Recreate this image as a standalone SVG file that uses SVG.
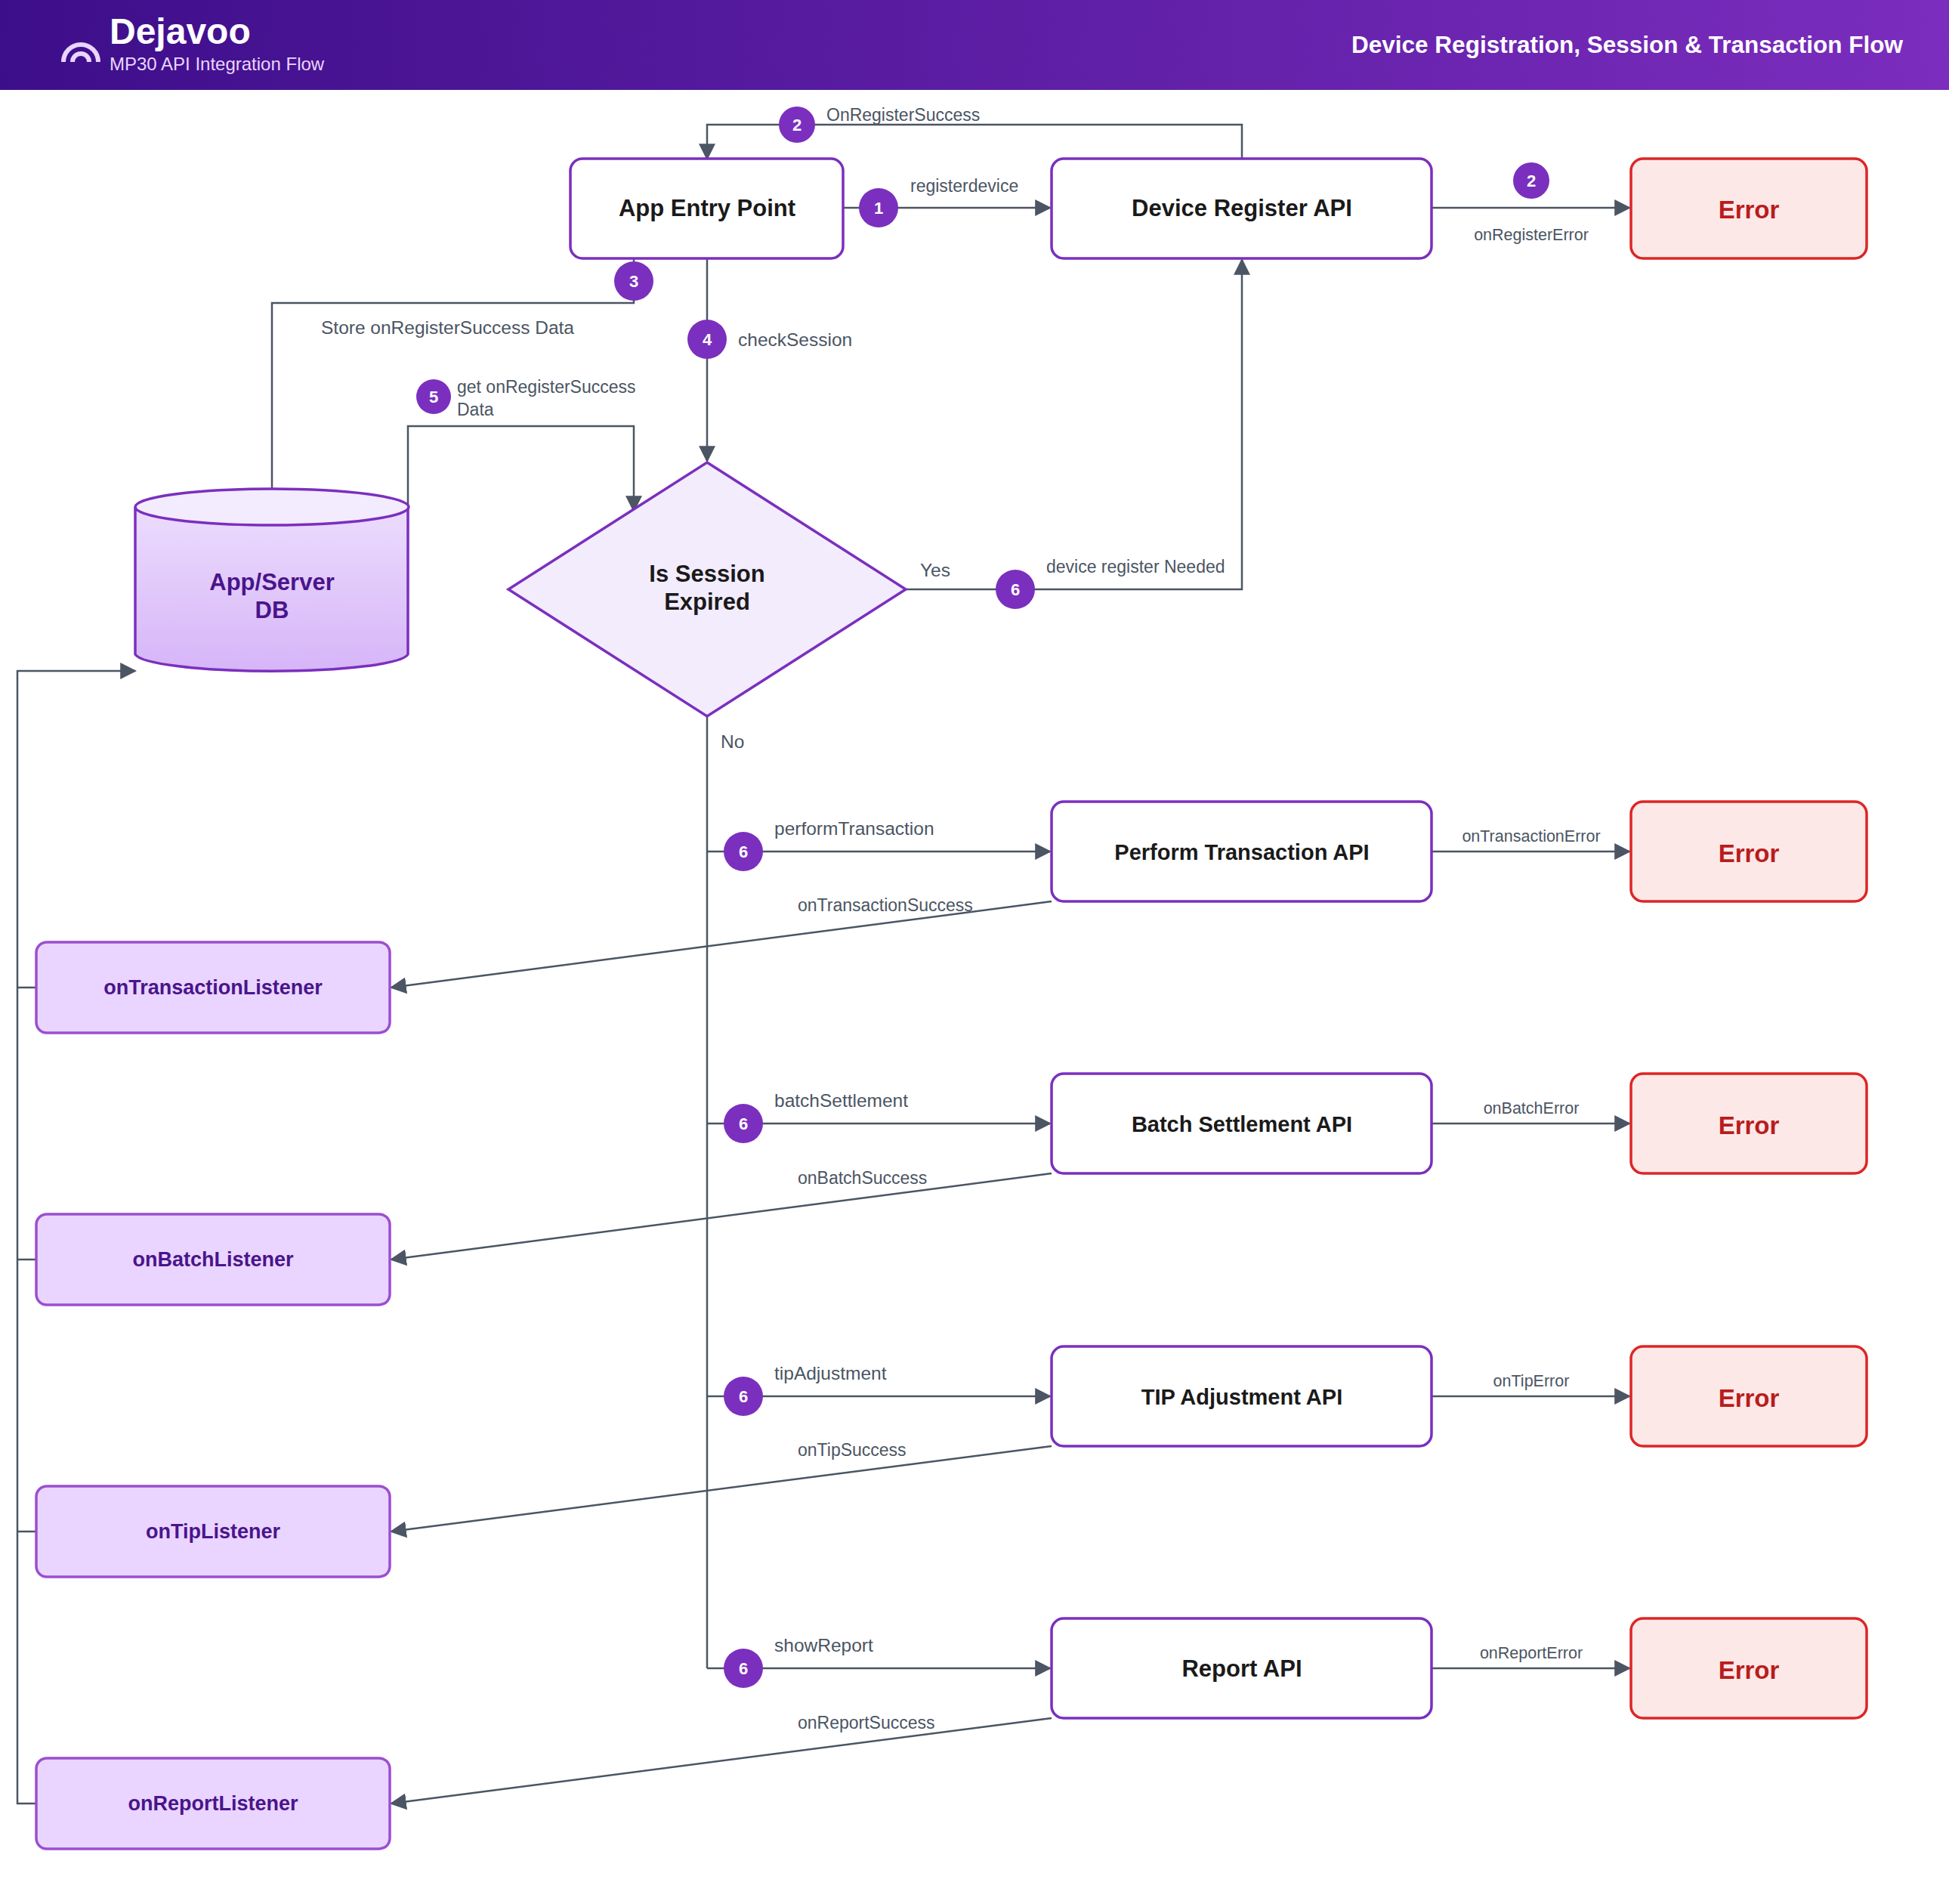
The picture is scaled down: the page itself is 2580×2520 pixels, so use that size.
<svg xmlns="http://www.w3.org/2000/svg" width="2580" height="2520" viewBox="0 0 2580 2520">
<defs>
<linearGradient id="hdr" x1="0" y1="0" x2="1" y2="0"><stop offset="0" stop-color="#3d0e8a"/><stop offset="1" stop-color="#7b2dbd"/></linearGradient>
<linearGradient id="db" x1="0" y1="0" x2="0" y2="1"><stop offset="0" stop-color="#ecdcfd"/><stop offset="1" stop-color="#d6b5f8"/></linearGradient>
<marker id="a" viewBox="0 0 10 10" refX="9" refY="5" markerWidth="22" markerHeight="22" markerUnits="userSpaceOnUse" orient="auto"><path d="M0,0L10,5L0,10z" fill="#4b5563"/></marker>
</defs>
<style>
text{font-family:"Liberation Sans",Arial,sans-serif}
.box{fill:#fff;stroke:#7b2fbe;stroke-width:3.5}
.err{fill:#fde8e8;stroke:#dc2626;stroke-width:3.5}
.lis{fill:#e9d5ff;stroke:#9b4fd0;stroke-width:3.5}
.t{font-size:31px;font-weight:bold;fill:#1a1a1a;text-anchor:middle}
.et{font-size:33px;font-weight:bold;fill:#b91c1c;text-anchor:middle}
.lt{font-size:27px;font-weight:bold;fill:#4a148c;text-anchor:middle}
.c{fill:none;stroke:#4b5563;stroke-width:2.5}
.b{fill:#7b2fbe}
.bt{font-size:22px;font-weight:bold;fill:#fff;text-anchor:middle}
.l{font-size:23px;fill:#4b5563}
.m{font-size:24.5px}
.lm{font-size:21.5px;fill:#4b5563;text-anchor:middle}
</style>
<rect x="0" y="0" width="2580" height="119" fill="url(#hdr)"/>
<g fill="none" stroke="#e9d5ff" stroke-width="6"><path d="M84,82a23,23 0 0 1 46,0"/><path d="M96,82a11,11 0 0 1 22,0"/></g>
<text x="145" y="58" font-size="48" font-weight="bold" fill="#fff">Dejavoo</text>
<text x="145" y="93" font-size="24" fill="#e9d5ff">MP30 API Integration Flow</text>
<text x="2519" y="70" font-size="31.5" font-weight="bold" fill="#fff" text-anchor="end">Device Registration, Session &amp; Transaction Flow</text>

<g id="connectors">
<path class="c" d="M1116,275H1390" marker-end="url(#a)"/>
<path class="c" d="M1644,210V165H936V210" marker-end="url(#a)"/>
<path class="c" d="M1895,275H2157" marker-end="url(#a)"/>
<path class="c" d="M839,342V401H360V648"/>
<path class="c" d="M936,342V610" marker-end="url(#a)"/>
<path class="c" d="M540,671V564H839V676" marker-end="url(#a)"/>
<path class="c" d="M1199,780H1644V344" marker-end="url(#a)"/>
<path class="c" d="M936,948V2208"/>
<path class="c" d="M936,1127H1390" marker-end="url(#a)"/>
<path class="c" d="M936,1487H1390" marker-end="url(#a)"/>
<path class="c" d="M936,1848H1390" marker-end="url(#a)"/>
<path class="c" d="M936,2208H1390" marker-end="url(#a)"/>
<path class="c" d="M1895,1127H2157" marker-end="url(#a)"/>
<path class="c" d="M1895,1487H2157" marker-end="url(#a)"/>
<path class="c" d="M1895,1848H2157" marker-end="url(#a)"/>
<path class="c" d="M1895,2208H2157" marker-end="url(#a)"/>
<path class="c" d="M1392,1193L518,1307" marker-end="url(#a)"/>
<path class="c" d="M1392,1553L518,1667" marker-end="url(#a)"/>
<path class="c" d="M1392,1914L518,2027" marker-end="url(#a)"/>
<path class="c" d="M1392,2274L518,2387" marker-end="url(#a)"/>
<path class="c" d="M48,2387H23V888H179" marker-end="url(#a)"/>
<path class="c" d="M48,1307H23M48,1667H23M48,2027H23"/>
<circle class="b" cx="1163" cy="275" r="26"/><text class="bt" x="1163" y="283">1</text>
<circle class="b" cx="1055" cy="165" r="24"/><text class="bt" x="1055" y="173">2</text>
<circle class="b" cx="2027" cy="239" r="24"/><text class="bt" x="2027" y="247">2</text>
<circle class="b" cx="839" cy="372" r="26"/><text class="bt" x="839" y="380">3</text>
<circle class="b" cx="936" cy="449" r="26"/><text class="bt" x="936" y="457">4</text>
<circle class="b" cx="574" cy="525" r="23"/><text class="bt" x="574" y="533">5</text>
<circle class="b" cx="1344" cy="780" r="26"/><text class="bt" x="1344" y="788">6</text>
<circle class="b" cx="984" cy="1127" r="26"/><text class="bt" x="984" y="1135">6</text>
<circle class="b" cx="984" cy="1487" r="26"/><text class="bt" x="984" y="1495">6</text>
<circle class="b" cx="984" cy="1848" r="26"/><text class="bt" x="984" y="1856">6</text>
<circle class="b" cx="984" cy="2208" r="26"/><text class="bt" x="984" y="2216">6</text>
<text class="l" x="1205" y="254">registerdevice</text>
<text class="l" x="1094" y="160">OnRegisterSuccess</text>
<text class="lm" x="2027" y="318">onRegisterError</text>
<text class="l m" x="425" y="442">Store onRegisterSuccess Data</text>
<text class="l m" x="977" y="458">checkSession</text>
<text class="l" x="605" y="520">get onRegisterSuccess</text>
<text class="l" x="605" y="550">Data</text>
<text class="l m" x="1218" y="763">Yes</text>
<text class="l" x="1385" y="758">device register Needed</text>
<text class="l m" x="954" y="990">No</text>
<text class="l m" x="1025" y="1105">performTransaction</text>
<text class="l m" x="1025" y="1465">batchSettlement</text>
<text class="l m" x="1025" y="1826">tipAdjustment</text>
<text class="l m" x="1025" y="2186">showReport</text>
<text class="lm" x="2027" y="1114">onTransactionError</text>
<text class="lm" x="2027" y="1474">onBatchError</text>
<text class="lm" x="2027" y="1835">onTipError</text>
<text class="lm" x="2027" y="2195">onReportError</text>
<text class="l" x="1056" y="1206">onTransactionSuccess</text>
<text class="l" x="1056" y="1567">onBatchSuccess</text>
<text class="l" x="1056" y="1927">onTipSuccess</text>
<text class="l" x="1056" y="2288">onReportSuccess</text>
</g>

<g id="app"><rect class="box" x="755" y="210" width="361" height="132" rx="16"/><text class="t" x="936" y="286">App Entry Point</text></g>
<g id="devreg"><rect class="box" x="1392" y="210" width="503" height="132" rx="16"/><text class="t" x="1644" y="286">Device Register API</text></g>
<g id="err0"><rect class="err" x="2159" y="210" width="312" height="132" rx="16"/><text class="et" x="2315" y="289">Error</text></g>
<g id="db"><path d="M179,671V866A181,24 0 0 0 540,866V671" fill="url(#db)" stroke="#7b2fbe" stroke-width="3.5"/><ellipse cx="360" cy="671" rx="181" ry="24" fill="#f3ebfe" stroke="#7b2fbe" stroke-width="3.5"/><text class="t" x="360" y="781" style="fill:#4a148c">App/Server</text><text class="t" x="360" y="818" style="fill:#4a148c">DB</text></g>
<g id="session"><path d="M936,612L1199,780L936,948L673,780Z" fill="#f3ecfd" stroke="#7b2fbe" stroke-width="3.5"/><text class="t" x="936" y="770">Is Session</text><text class="t" x="936" y="807">Expired</text></g>
<g id="perform"><rect class="box" x="1392" y="1061" width="503" height="132" rx="16"/><text class="t" x="1644" y="1138" style="font-size:29px">Perform Transaction API</text></g>
<g id="batch"><rect class="box" x="1392" y="1421" width="503" height="132" rx="16"/><text class="t" x="1644" y="1498" style="font-size:29px">Batch Settlement API</text></g>
<g id="tip"><rect class="box" x="1392" y="1782" width="503" height="132" rx="16"/><text class="t" x="1644" y="1859" style="font-size:29px">TIP Adjustment API</text></g>
<g id="report"><rect class="box" x="1392" y="2142" width="503" height="132" rx="16"/><text class="t" x="1644" y="2219">Report API</text></g>
<g id="err1"><rect class="err" x="2159" y="1061" width="312" height="132" rx="16"/><text class="et" x="2315" y="1141">Error</text></g>
<g id="err2"><rect class="err" x="2159" y="1421" width="312" height="132" rx="16"/><text class="et" x="2315" y="1501">Error</text></g>
<g id="err3"><rect class="err" x="2159" y="1782" width="312" height="132" rx="16"/><text class="et" x="2315" y="1862">Error</text></g>
<g id="err4"><rect class="err" x="2159" y="2142" width="312" height="132" rx="16"/><text class="et" x="2315" y="2222">Error</text></g>
<g id="l1"><rect class="lis" x="48" y="1247" width="468" height="120" rx="14"/><text class="lt" x="282" y="1316">onTransactionListener</text></g>
<g id="l2"><rect class="lis" x="48" y="1607" width="468" height="120" rx="14"/><text class="lt" x="282" y="1676">onBatchListener</text></g>
<g id="l3"><rect class="lis" x="48" y="1967" width="468" height="120" rx="14"/><text class="lt" x="282" y="2036">onTipListener</text></g>
<g id="l4"><rect class="lis" x="48" y="2327" width="468" height="120" rx="14"/><text class="lt" x="282" y="2396">onReportListener</text></g>
</svg>
